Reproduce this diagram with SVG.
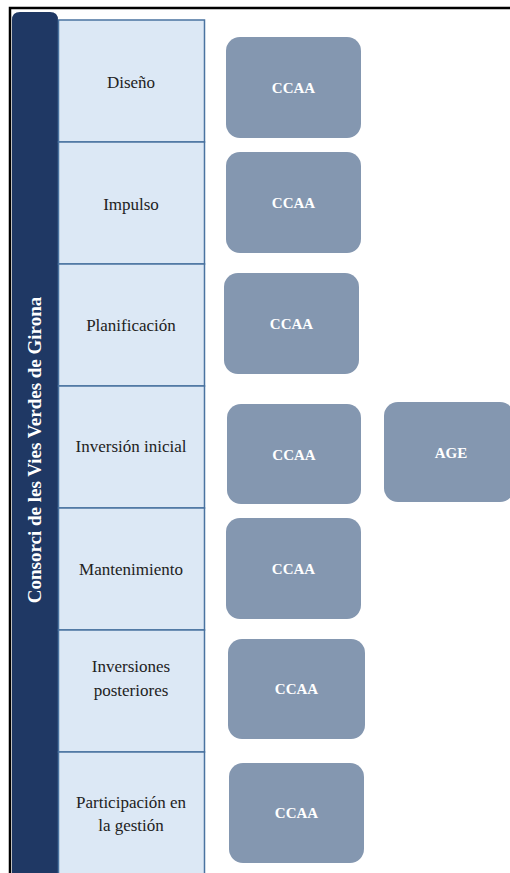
<svg xmlns="http://www.w3.org/2000/svg" width="510" height="873" viewBox="0 0 510 873">
<style>
.cell{fill:#dce8f5;stroke:#4a73a0;stroke-width:1.5}
.box{fill:#8497b0}
</style>
<rect width="510" height="873" fill="#fff"/>
<path d="M10 873 V8 H510" fill="none" stroke="#000" stroke-width="2.5"/>
<g id="header">
<path d="M12 873 V20 Q12 12 20 12 H50 Q58 12 58 20 V873 Z" fill="#1f3864"/>
<text transform="translate(41 450) rotate(-90)" font-family="Liberation Serif, serif" font-size="19" font-weight="bold" fill="#fff" text-anchor="middle">Consorci de les Vies Verdes de Girona</text>
</g>
<g font-family="Liberation Serif, serif" font-size="17" fill="#222" text-anchor="middle">
<g id="stage1"><rect class="cell" x="58.5" y="20" width="146" height="122"/><text x="131" y="88" fill="#222">Diseño</text></g>
<g id="stage2"><rect class="cell" x="58.5" y="142" width="146" height="122"/><text x="131" y="210" fill="#222">Impulso</text></g>
<g id="stage3"><rect class="cell" x="58.5" y="264" width="146" height="122"/><text x="131" y="331" fill="#222">Planificación</text></g>
<g id="stage4"><rect class="cell" x="58.5" y="386" width="146" height="122"/><text x="131" y="452" fill="#222">Inversión inicial</text></g>
<g id="stage5"><rect class="cell" x="58.5" y="508" width="146" height="122"/><text x="131" y="575" fill="#222">Mantenimiento</text></g>
<g id="stage6"><rect class="cell" x="58.5" y="630" width="146" height="122"/><text x="131" y="672" fill="#222">Inversiones</text><text x="131" y="696" fill="#222">posteriores</text></g>
<g id="stage7"><rect class="cell" x="58.5" y="752" width="146" height="124"/><text x="131" y="808" fill="#222">Participación en</text><text x="131" y="831" fill="#222">la gestión</text></g>
</g>
<g font-family="Liberation Serif, serif" font-size="15" font-weight="bold" text-anchor="middle">
<g id="ccaa1"><rect class="box" x="226" y="37" width="135" height="101" rx="14"/><text x="293.5" y="93" fill="#fff">CCAA</text></g>
<g id="ccaa2"><rect class="box" x="226" y="152" width="135" height="101" rx="14"/><text x="293.5" y="208" fill="#fff">CCAA</text></g>
<g id="ccaa3"><rect class="box" x="224" y="273" width="135" height="101" rx="14"/><text x="291.5" y="329" fill="#fff">CCAA</text></g>
<g id="ccaa4"><rect class="box" x="227" y="404" width="134" height="100" rx="14"/><text x="294" y="460" fill="#fff">CCAA</text></g>
<g id="age"><rect class="box" x="384" y="402" width="130" height="100" rx="14"/><text x="451" y="458" fill="#fff">AGE</text></g>
<g id="ccaa5"><rect class="box" x="226" y="518" width="135" height="101" rx="14"/><text x="293.5" y="574" fill="#fff">CCAA</text></g>
<g id="ccaa6"><rect class="box" x="228" y="639" width="137" height="100" rx="14"/><text x="296.5" y="694" fill="#fff">CCAA</text></g>
<g id="ccaa7"><rect class="box" x="229" y="763" width="135" height="100" rx="14"/><text x="296.5" y="818" fill="#fff">CCAA</text></g>
</g>
<g id="connectors"/>
</svg>
